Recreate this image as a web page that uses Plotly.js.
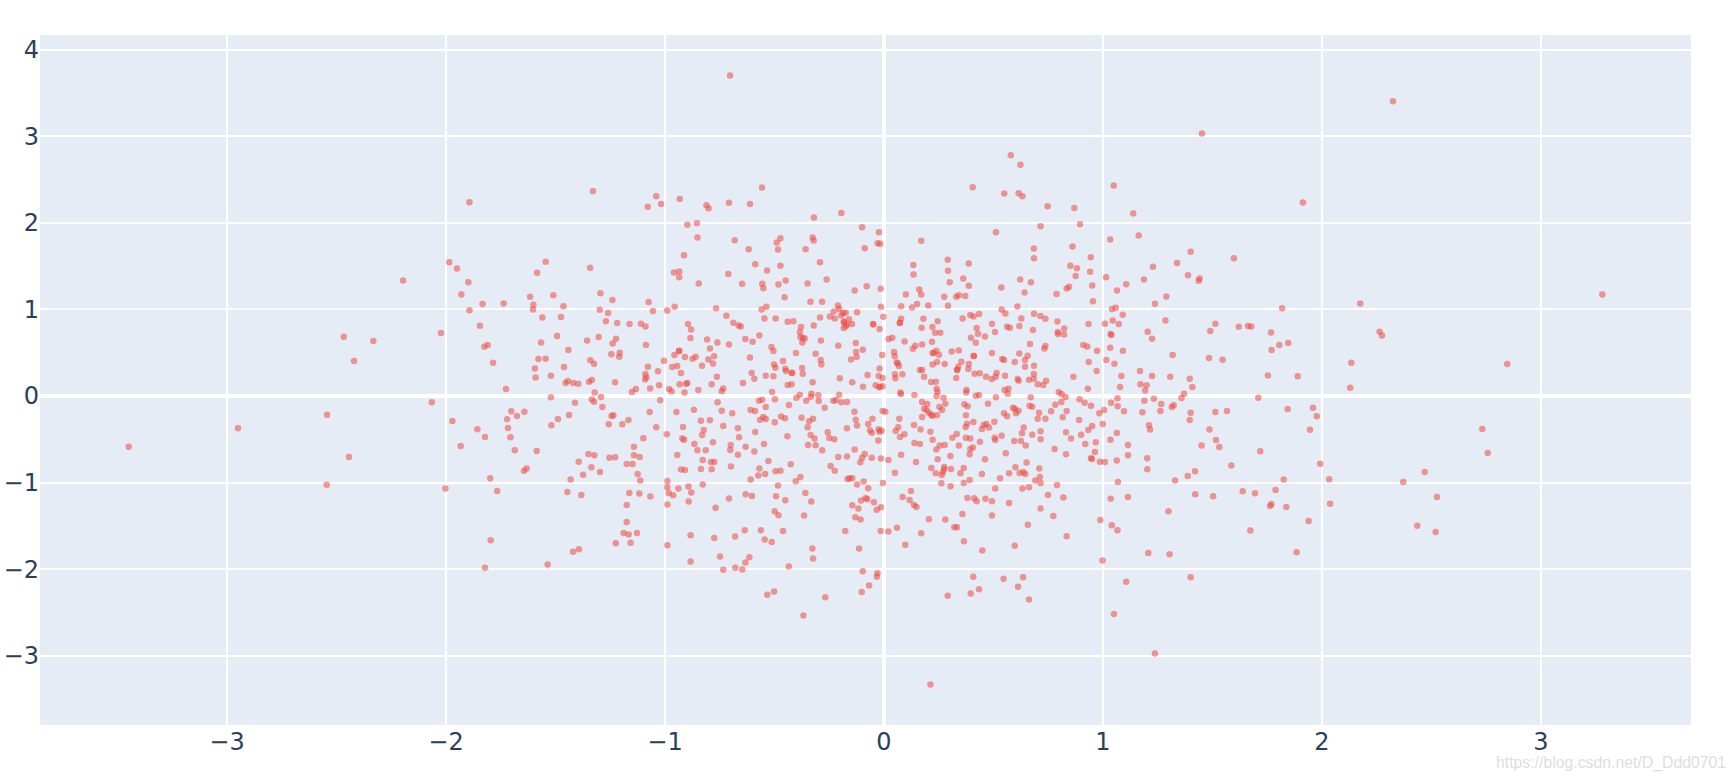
<!DOCTYPE html>
<html>
<head>
<meta charset="utf-8">
<script src="https://cdn.plot.ly/plotly-3.0.1.min.js"></script>
<style>html,body{margin:0;padding:0;background:#fff}#chart{width:1734px;height:780px}</style>
</head>
<body>
<div id="chart"></div>
<script>
const upperLeft = [[-1.893,2.238],[-1.329,2.365],[-1.040,2.308],[-1.079,2.185],[-1.018,2.219],[-.933,2.277],[-.898,1.977],[-.854,1.996],[-.852,1.831],[-.913,1.627],[-1.985,1.546],[-1.950,1.473],[-1.545,1.550],[-1.584,1.423],[-1.342,1.481],[-2.196,1.335],[-1.898,1.315],[-1.930,1.173],[-.959,1.427],[-.935,1.438],[-.935,1.373],[-.846,1.300],[-1.833,1.062],[-1.737,1.069],[-1.616,1.146],[-1.510,1.165],[-1.601,1.054],[-1.603,1.0],[-1.464,1.038],[-1.295,1.188],[-1.240,1.108],[-1.075,1.085],[-1.298,.996],[-1.260,.958],[-1.055,.981],[-.990,.988],[-.956,1.031],[-1.893,.992],[-1.845,.812],[-1.560,.908],[-1.475,.912],[-1.270,.865],[-1.218,.842],[-1.162,.831],[-1.110,.835],[-1.089,.804],[-.895,.831],[-.881,.769],[-2.023,.727],[-1.493,.692],[-1.303,.681],[-1.356,.642],[-1.224,.662],[-1.239,.608],[-1.566,.619],[-1.810,.588],[-1.825,.569],[-1.087,.588],[-.884,.669],[-1.441,.531],[-.936,.519],[-.935,.522],[-.957,.473],[-.860,.454],[-.874,.431],[-.909,.45],[-1.245,.481],[-1.207,.5],[-1.209,.454],[-1.578,.427],[-1.545,.431],[-1.341,.412],[-1.324,.373],[-1.005,.408],[-1.785,.385],[-1.594,.319],[-1.461,.335],[-1.078,.338],[-.967,.335],[-.944,.346],[-1.032,.285],[-.927,.265],[-1.090,.254],[-1.085,.215],[-1.091,.192],[-1.591,.215],[-1.521,.235],[-1.444,.173],[-1.454,.15],[-1.419,.15],[-1.396,.142],[-1.347,.165],[-1.334,.185],[-1.228,.158],[-1.027,.123],[-.933,.135],[-.898,.15],[-.904,.142],[-1.133,.081],[-1.151,.046],[-1.068,.088],[-.981,.081],[-.970,.054],[-.911,.042],[-.848,.069],[-1.321,.042],[-1.726,.081],[-1.521,-.015],[-1.334,-.04],[-1.292,-.012],[-1.022,-.05]];
const upperCenter = [[-.557,2.408],[-.811,2.204],[-.801,2.169],[-.708,2.231],[-.612,2.219],[-.320,2.062],[-.195,2.115],[.405,2.412],[-.100,1.95],[-.023,1.892],[.511,1.892],[-.682,1.8],[-.618,1.696],[-.473,1.823],[-.490,1.773],[-.484,1.692],[-.326,1.831],[-.321,1.796],[-.358,1.696],[-.088,1.708],[-.029,1.765],[-.017,1.758],[.170,1.792],[-.292,1.546],[-.588,1.523],[-.534,1.45],[-.473,1.504],[-.711,1.408],[.134,1.512],[.135,1.404],[.291,1.573],[.292,1.446],[.387,1.531],[-.262,1.346],[-.449,1.335],[-.648,1.296],[-.556,1.296],[-.551,1.246],[-.482,1.288],[-.349,1.3],[.300,1.315],[.362,1.358],[.387,1.273],[-.134,1.219],[-.079,1.269],[-.015,1.238],[.161,1.231],[.170,1.173],[.100,1.173],[.275,1.146],[.330,1.146],[.342,1.165],[.371,1.154],[-.454,1.142],[-.336,1.088],[-.283,1.088],[.151,1.062],[.128,1.023],[.078,1.038],[.202,1.046],[.292,1.042],[-.014,1.031],[-.767,1.015],[-.559,1.0],[-.537,1.031],[-.210,1.046],[-.205,1.004],[-.230,.977],[-.187,.958],[-.175,.962],[-.196,.931],[-.123,.969],[-.720,.927],[-.546,.896],[-.495,.896],[-.440,.858],[-.414,.865],[-.292,.908],[-.247,.919],[-.225,.896],[-.160,.888],[-.183,.858],[-.183,.854],[-.146,.831],[-.169,.827],[-.184,.785],[-.174,.808],[-.050,.831],[-.049,.827],[-.003,.915],[-.020,.773],[.078,.892],[.073,.846],[.072,.842],[.180,.892],[.245,.865],[.359,.896],[.394,.935],[.409,.919],[.434,.946],[.493,.835],[.507,.738],[.423,.785],[.429,.719],[.461,.688],[.397,.673],[.419,.615],[.172,.788],[.221,.796],[.233,.731],[.257,.731],[.219,.627],[.094,.631],[.038,.673],[.021,.658],[-.688,.846],[-.664,.815],[-.654,.804],[-.321,.815],[-.379,.796],[-.384,.738],[-.382,.681],[-.362,.665],[-.373,.619],[-.371,.669],[-.569,.7],[-.288,.642],[-.633,.658],[-.600,.627],[-.808,.654],[-.761,.619],[-.708,.596],[-.795,.55],[-.514,.565],[-.505,.519],[-.209,.581],[-.129,.612],[-.097,.535],[-.128,.508],[-.125,.45],[-.151,.423],[-.402,.496],[-.312,.488],[-.776,.458],[-.802,.423],[-.781,.377],[-.831,.35],[-.612,.446],[-.461,.404],[-.502,.365],[-.496,.327],[-.289,.415],[-.286,.365],[-.374,.323],[-.451,.315],[-.447,.288],[-.422,.265],[-.419,.269],[-.371,.258],[-.763,.223],[-.604,.265],[-.592,.2],[-.540,.235],[-.505,.227],[-.787,.135],[-.644,.15],[-.734,.088],[-.741,.054],[-.511,.046],[-.440,.127],[-.422,.135],[-.326,.158],[-.202,.204],[-.145,.158],[-.075,.242],[-.020,.319],[-.008,.473],[-.024,.231],[-.006,.208],[-.096,.108],[-.038,.123],[-.023,.1],[-.006,.112],[-.018,.108],[-.205,.015],[-.384,.015],[-.331,.027],[-.300,.008],[-.400,-.019],[.046,.508],[.049,.458],[.058,.388],[.063,.377],[.068,.346],[.050,.25],[.052,.204],[.084,.25],[.132,.546],[.143,.581],[.174,.596],[.222,.496],[.227,.496],[.239,.523],[.251,.477],[.309,.515],[.341,.527],[.409,.462],[.411,.462],[.493,.496],[.242,.392],[.222,.365],[.277,.369],[.353,.396],[.387,.369],[.339,.338],[.333,.3],[.335,.304],[.385,.312],[.164,.3],[.174,.3],[.183,.223],[.414,.258],[.437,.262],[.466,.223],[.492,.196],[.514,.265],[.510,.223],[.330,.208],[.215,.162],[.237,.165],[.240,.085],[.244,.05],[.075,.042],[.077,.023],[.139,.012],[.240,0],[.377,.069],[.375,.042],[.419,.004],[.434,.012],[.511,-.015]];
const upperRight = [[.549,2.338],[.615,2.342],[.632,2.308],[.747,2.192],[.869,2.173],[1.049,2.431],[1.138,2.108],[.715,1.962],[.895,1.985],[1.163,1.854],[1.033,1.808],[.684,1.704],[.685,1.592],[.861,1.727],[.944,1.604],[1.400,1.665],[1.598,1.592],[1.338,1.535],[1.228,1.492],[.851,1.504],[.881,1.477],[.941,1.435],[.875,1.385],[1.014,1.373],[.622,1.346],[.671,1.315],[.536,1.254],[.642,1.196],[.788,1.177],[.834,1.242],[.845,1.262],[.951,1.277],[.954,1.096],[1.064,1.219],[1.106,1.292],[1.187,1.346],[1.388,1.396],[1.441,1.358],[1.437,1.331],[1.289,1.15],[1.237,1.065],[1.818,1.015],[.609,1.035],[.537,1.0],[.554,.954],[.685,.95],[.714,.923],[.737,.892],[.627,.896],[.792,.862],[.823,.781],[.934,.831],[1.041,1.004],[1.058,1.019],[1.090,.938],[1.044,.873],[1.009,.835],[1.072,.831],[1.285,.873],[1.204,.742],[1.224,.662],[1.513,.835],[1.490,.75],[1.620,.8],[1.662,.808],[1.677,.804],[1.767,.735],[1.805,.588],[1.846,.612],[1.770,.531],[.562,.8],[.575,.788],[.618,.808],[.680,.762],[.794,.738],[.794,.715],[.822,.712],[1.035,.715],[1.038,.704],[1.033,.558],[1.091,.523],[.973,.523],[.910,.588],[.928,.573],[.737,.577],[.732,.55],[.667,.6],[.618,.492],[.656,.465],[.644,.415],[.540,.427],[.548,.415],[.597,.392],[.685,.35],[.644,.338],[.935,.392],[1.015,.415],[1.052,.373],[1.318,.473],[1.484,.438],[1.546,.419],[.971,.288],[1.169,.288],[1.084,.231],[1.224,.231],[1.307,.223],[1.396,.2],[1.753,.238],[1.889,.227],[.553,.235],[.610,.196],[.615,.177],[.684,.254],[.684,.2],[.662,.188],[.702,.135],[.727,.127],[.740,.177],[.865,.223],[1.078,.104],[1.171,.135],[1.199,.123],[1.192,.065],[1.408,.104],[1.370,.027],[.931,.085],[.798,.046],[.811,.023],[.829,-.012],[.551,.069],[.568,.085],[.565,.027],[.670,-.015],[.893,-.038],[1.066,-.027],[1.189,-.054],[1.232,-.031],[1.358,-.023],[1.709,-.019]];
const lowerLeft = [[-2.065,-.073],[-1.411,-.077],[-1.324,-.065],[-1.286,-.127],[-1.070,-.185],[-.948,-.185],[-.868,-.158],[-1.971,-.288],[-1.702,-.177],[-1.676,-.231],[-1.642,-.181],[-1.721,-.269],[-1.489,-.265],[-1.438,-.219],[-1.236,-.223],[-1.244,-.231],[-1.167,-.277],[-1.519,-.338],[-1.257,-.327],[-1.195,-.327],[-1.717,-.369],[-1.857,-.385],[-1.822,-.473],[-1.706,-.477],[-1.040,-.362],[-.918,-.358],[-.992,-.442],[-1.099,-.488],[-.921,-.492],[-.913,-.504],[-.866,-.554],[-1.142,-.585],[-1.933,-.577],[-1.686,-.627],[-1.586,-.635],[-.852,-.627],[-1.142,-.685],[-1.116,-.704],[-.944,-.681],[-1.350,-.669],[-1.323,-.685],[-1.254,-.712],[-1.228,-.708],[-1.394,-.758],[-1.175,-.785],[-1.148,-.785],[-1.632,-.838],[-1.644,-.862],[-1.336,-.823],[-1.374,-.908],[-1.297,-.877],[-1.125,-.9],[-1.113,-.977],[-.927,-.85],[-.909,-.854],[-1.431,-.965],[-1.798,-.95],[-.989,-.981],[-2.003,-1.069],[-1.766,-1.096],[-.990,-1.054],[-.939,-1.069],[-.893,-1.046],[-.880,-1.115],[-.983,-1.119],[-.963,-1.146],[-1.446,-1.108],[-1.382,-1.142],[-1.163,-1.119],[-1.117,-1.127],[-1.067,-1.162],[-.892,-1.219],[-1.175,-1.258],[-.989,-1.254],[-1.175,-1.454],[-1.189,-1.581],[-1.166,-1.6],[-1.128,-1.581],[-.883,-1.608],[-1.796,-1.665],[-1.225,-1.7],[-1.157,-1.696],[-.989,-1.723],[-1.393,-1.769],[-1.420,-1.8],[-.883,-1.912],[-1.536,-1.946],[-1.822,-1.985]];
const lowerCenter = [[-.760,-.073],[-.741,-.169],[-.693,-.2],[-.609,-.162],[-.589,-.173],[-.571,-.054],[-.556,-.042],[-.498,-.038],[-.540,-.127],[-.434,-.104],[-.355,-.054],[-.334,-.008],[-.298,-.058],[-.271,-.135],[-.231,-.054],[-.220,-.05],[-.195,-.073],[-.169,-.069],[-.135,-.181],[-.006,-.173],[.006,-.181],[.174,-.069],[.197,-.092],[.183,-.146],[.195,-.162],[.204,-.192],[.216,-.215],[.221,-.227],[.242,-.223],[.253,-.127],[.265,-.162],[.280,-.088],[.272,-.019],[.367,-.096],[.382,-.119],[.475,-.088],[-.795,-.281],[-.836,-.285],[-.734,-.346],[-.667,-.373],[-.823,-.392],[-.831,-.45],[-.588,-.415],[-.566,-.273],[-.551,-.242],[-.540,-.265],[-.499,-.304],[-.470,-.238],[-.452,-.258],[-.377,-.25],[-.342,-.292],[-.324,-.262],[-.349,-.362],[-.169,-.373],[-.129,-.273],[-.123,-.342],[-.072,-.323],[-.053,-.262],[.070,-.262],[.174,-.242],[.137,-.335],[.167,-.388],[.374,-.223],[.379,-.319],[.373,-.358],[.408,-.3],[.447,-.381],[.455,-.335],[.467,-.323],[.479,-.365],[.504,-.296],[.065,-.362],[.053,-.404],[.212,-.412],[-.064,-.396],[-.056,-.423],[-.024,-.385],[-.021,-.412],[-.011,-.4],[-.257,-.419],[-.441,-.465],[-.335,-.45],[-.317,-.492],[-.250,-.485],[-.227,-.5],[-.662,-.477],[.073,-.473],[.093,-.442],[-.026,-.515],[.222,-.504],[.312,-.481],[.332,-.438],[.374,-.481],[.394,-.492],[.438,-.527],[.505,-.481],[.508,-.508],[-.781,-.535],[-.700,-.565],[-.632,-.585],[-.548,-.554],[-.347,-.565],[-.312,-.569],[.139,-.542],[.164,-.554],[.254,-.573],[.277,-.565],[.342,-.573],[.406,-.596],[.394,-.612],[.239,-.619],[-.814,-.627],[-.702,-.623],[-.592,-.642],[-.667,-.677],[-.282,-.627],[-.134,-.619],[.391,-.673],[-.088,-.669],[.078,-.677],[.303,-.692],[-.209,-.704],[-.169,-.7],[-.100,-.712],[-.056,-.712],[-.014,-.723],[.020,-.738],[.461,-.731],[.245,-.731],[-.828,-.738],[-.528,-.75],[-.108,-.765],[.146,-.762],[-.790,-.762],[-.775,-.762],[-.426,-.788],[-.699,-.815],[-.569,-.838],[-.244,-.808],[-.225,-.862],[-.836,-.842],[-.787,-.846],[-.495,-.869],[-.473,-.862],[-.543,-.9],[-.574,-.919],[.216,-.831],[.275,-.819],[.275,-.846],[.269,-.881],[.263,-.912],[.236,-.892],[.306,-.842],[.364,-.831],[.349,-.892],[.447,-.9],[.050,-.885],[-.609,-.965],[-.382,-.935],[-.403,-.985],[-.166,-.958],[-.157,-.95],[-.145,-.95],[-.093,-.988],[.391,-.969],[.364,-1.004],[.262,-1.008],[-.005,-1.004],[-.828,-1.023],[-.484,-1.035],[-.123,-1.023],[-.072,-1.065],[.304,-1.042],[.508,-1.069],[.123,-1.096],[-.632,-1.135],[-.603,-1.154],[-.493,-1.158],[-.359,-1.119],[-.708,-1.185],[-.451,-1.204],[-.332,-1.219],[-.084,-1.177],[-.076,-1.192],[-.105,-1.208],[-.046,-1.227],[.085,-1.165],[.117,-1.2],[.381,-1.177],[.412,-1.181],[.423,-1.215],[.463,-1.188],[.493,-1.215],[-.769,-1.292],[-.145,-1.262],[-.117,-1.3],[-.033,-1.315],[-.014,-1.285],[.137,-1.258],[.148,-1.281],[-.499,-1.331],[-.482,-1.377],[-.365,-1.381],[-.131,-1.4],[-.107,-1.427],[.358,-1.362],[.493,-1.381],[.205,-1.423],[.280,-1.427],[.059,-1.523],[.321,-1.515],[.333,-1.515],[-.636,-1.55],[-.562,-1.55],[-.461,-1.558],[-.177,-1.558],[-.015,-1.558],[.020,-1.565],[.170,-1.585],[-.775,-1.639],[-.680,-1.623],[-.545,-1.658],[-.513,-1.685],[.365,-1.677],[.097,-1.719],[-.327,-1.762],[-.114,-1.762],[.449,-1.785],[-.749,-1.854],[-.615,-1.862],[-.633,-1.923],[-.324,-1.877],[-.734,-2.008],[-.679,-1.985],[-.647,-2.004],[-.435,-1.969],[-.097,-2.023],[-.030,-2.046],[-.033,-2.088],[.408,-2.088],[-.068,-2.188],[-.102,-2.265],[.434,-2.231],[.396,-2.281],[.291,-2.308],[-.533,-2.296],[-.502,-2.258],[-.268,-2.323],[-.368,-2.535]];
const lowerRight = [[.916,-.077],[.945,-.112],[.782,-.1],[.810,-.069],[1.037,-.077],[1.067,-.119],[1.266,-.092],[1.314,-.127],[1.323,-.108],[.589,-.135],[.598,-.146],[.614,-.169],[.548,-.2],[.562,-.235],[.603,-.2],[.665,-.112],[.677,-.123],[.708,-.192],[.763,-.177],[.834,-.173],[.702,-.262],[.737,-.262],[.816,-.246],[.891,-.277],[.983,-.2],[1.005,-.162],[1.096,-.177],[1.180,-.188],[1.262,-.173],[1.400,-.192],[1.396,-.277],[1.513,-.185],[1.566,-.173],[1.843,-.15],[.951,-.346],[.999,-.323],[1.210,-.338],[1.215,-.388],[1.486,-.388],[.638,-.365],[.715,-.408],[.630,-.431],[.677,-.446],[.537,-.458],[.831,-.419],[.933,-.392],[.900,-.446],[1.063,-.427],[1.034,-.504],[.715,-.5],[.854,-.492],[.595,-.519],[.625,-.519],[1.516,-.508],[.647,-.573],[.919,-.554],[.967,-.535],[1.114,-.565],[1.450,-.573],[1.531,-.588],[.779,-.612],[.556,-.662],[.831,-.673],[.963,-.646],[1.114,-.685],[1.718,-.638],[1.202,-.719],[.945,-.719],[.950,-.727],[.986,-.758],[1.009,-.762],[1.063,-.746],[.651,-.769],[1.586,-.804],[.600,-.823],[.709,-.838],[1.202,-.846],[.571,-.892],[.619,-.888],[.636,-.877],[.645,-.9],[1.420,-.869],[.712,-.935],[1.387,-.923],[.530,-.95],[.691,-.977],[.715,-1.004],[.790,-1.027],[1.068,-.992],[1.329,-.977],[1.825,-.965],[.632,-1.069],[.662,-1.054],[.749,-1.142],[.819,-1.173],[1.035,-1.188],[1.114,-1.165],[1.421,-1.135],[1.503,-1.158],[1.638,-1.1],[1.694,-1.123],[1.788,-1.085],[.571,-1.235],[1.769,-1.246],[1.763,-1.27],[1.837,-1.281],[.715,-1.3],[1.299,-1.331],[.773,-1.385],[.988,-1.431],[.657,-1.488],[1.040,-1.492],[1.066,-1.55],[1.673,-1.554],[.834,-1.619],[.597,-1.73],[1.207,-1.812],[1.304,-1.827],[1.884,-1.804],[.998,-1.9],[.546,-2.112],[.635,-2.092],[.612,-2.204],[.662,-2.35],[1.106,-2.146],[1.400,-2.092],[1.050,-2.519]];
const farLeft = [[-2.467,.685],[-2.332,.635],[-2.42,.404],[-2.543,-.216],[-2.95,-.373],[-3.449,-.585],[-2.443,-.704],[-2.545,-1.024]];
const farRight = [[2.324,3.406],[1.913,2.236],[2.175,1.07],[3.28,1.174],[2.263,.743],[2.274,.70],[2.134,.385],[2.846,.37],[2.129,.096],[1.959,-.135],[1.976,-.234],[1.945,-.389],[2.732,-.381],[2.757,-.658],[1.992,-.782],[2.033,-.962],[2.469,-.878],[2.371,-.993],[2.525,-1.166],[2.037,-1.244],[1.939,-1.443],[2.435,-1.498],[2.519,-1.57]];
const farTop = [[-.703,3.703],[.579,2.78],[.623,2.671],[1.452,3.033]];
const farBottom = [[1.237,-2.975],[.212,-3.333]];
const xTicks = [-3,-2,-1,0,1,2,3];
const yTicks = [-3,-2,-1,0,1,2,3,4];
const watermark = "https://blog.csdn.net/D_Ddd0701";

const allPoints = [].concat(upperLeft, upperCenter, upperRight, lowerLeft, lowerCenter, lowerRight, farLeft, farRight, farTop, farBottom);

Plotly.newPlot("chart", [{
  type: "scatter",
  mode: "markers",
  x: allPoints.map(p => p[0]),
  y: allPoints.map(p => p[1]),
  marker: {size: 6.5, color: "#EF4B3F", opacity: 0.55, line: {width: 0}}
}], {
  width: 1734,
  height: 780,
  margin: {l: 40, r: 43, t: 35, b: 55, pad: 0},
  paper_bgcolor: "#fff",
  plot_bgcolor: "#E5ECF6",
  showlegend: false,
  font: {family: "'DejaVu Sans', Verdana, sans-serif", size: 24, color: "#2a3f5f"},
  xaxis: {range: [-3.854, 3.685], tickmode: "array", tickvals: xTicks, ticks: "", gridcolor: "#fff", gridwidth: 2, zeroline: true, zerolinecolor: "#fff", zerolinewidth: 4, showline: false, tickfont: {size: 24}},
  yaxis: {range: [-3.80, 4.17], tickmode: "array", tickvals: yTicks, ticks: "", gridcolor: "#fff", gridwidth: 2, zeroline: true, zerolinecolor: "#fff", zerolinewidth: 4, showline: false, tickfont: {size: 24}},
  annotations: [{
    text: watermark, xref: "paper", yref: "paper", x: 1.0226, y: -0.0550,
    xanchor: "right", yanchor: "middle", showarrow: false,
    font: {family: "'Liberation Sans', Arial, sans-serif", size: 15.8, color: "#dedede"}
  }]
}, {displayModeBar: false, responsive: false});
</script>
</body>
</html>
